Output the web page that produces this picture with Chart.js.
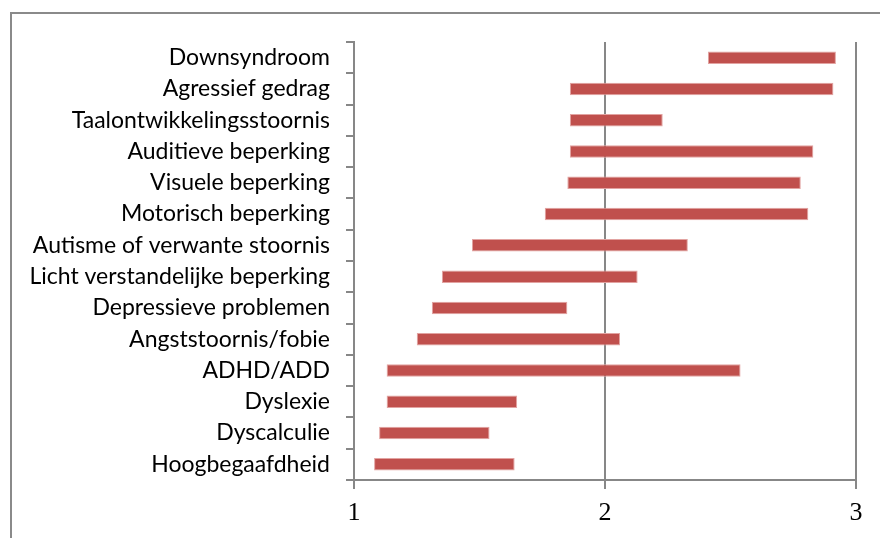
<!DOCTYPE html>
<html>
<head>
<meta charset="utf-8">
<script src="https://cdn.jsdelivr.net/npm/chart.js@4"></script>
<style>
  html,body{margin:0;padding:0;background:#fff;}
  #wrap{position:relative;width:880px;height:538px;overflow:hidden;}
  #frame{position:absolute;left:10px;top:12px;width:900px;height:600px;border:2px solid #8a8a8a;box-sizing:border-box;}
  canvas{position:absolute;left:0;top:0;}
</style>
</head>
<body>
<div id="wrap">
  <div id="frame"></div>
  <canvas id="myChart" width="880" height="538"></canvas>
</div>
<script>
// categories, top to bottom
var categories = ["Downsyndroom","Agressief gedrag","Taalontwikkelingsstoornis","Auditieve beperking",
  "Visuele beperking","Motorisch beperking","Autisme of verwante stoornis","Licht verstandelijke beperking",
  "Depressieve problemen","Angststoornis/fobie","ADHD/ADD","Dyslexie","Dyscalculie","Hoogbegaafdheid"];
// start and end of each bar
var lowValues  = [2.41,1.86,1.86,1.86,1.85,1.76,1.47,1.35,1.31,1.25,1.13,1.13,1.10,1.08];
var highValues = [2.92,2.91,2.23,2.83,2.78,2.81,2.33,2.13,1.85,2.06,2.54,1.65,1.54,1.64];
var xTicks = [1,2,3];

var GRAY = '#878787';
var tmp = [];
for(var i=0;i<categories.length;i++){
  tmp.push([lowValues[i], highValues[i]]);
}

var data = {
  labels: categories,
  datasets: [{
    data: tmp,
    backgroundColor: '#C0504D',
    borderColor: '#e2a3a1',
    borderWidth: 1,
    borderSkipped: false,
    categoryPercentage: 1,
    barPercentage: 0.4
  }]
};

var config = {
  type: 'bar',
  data: data,
  options: {
    indexAxis: 'y',
    responsive: false,
    animation: false,
    layout: {padding: {left: 0, top: 42, right: 24, bottom: 0}},
    plugins: {legend: {display: false}, tooltip: {enabled: false}},
    scales: {
      x: {
        min: 1, max: 3,
        afterFit: function(s){ s.height = 58; },
        afterBuildTicks: function(s){ s.ticks = xTicks.map(function(v){ return {value: v}; }); },
        border: {color: GRAY, width: 2},
        grid: {color: GRAY, lineWidth: 2, tickLength: 9, drawOnChartArea: true},
        ticks: {
          padding: 9,
          color: '#000',
          font: {family: '"Liberation Serif", "DejaVu Serif", serif', size: 26}
        }
      },
      y: {
        afterFit: function(s){ s.width = 354; },
        border: {color: GRAY, width: 2},
        grid: {offset: true, color: GRAY, lineWidth: 2, tickLength: 8, drawOnChartArea: false},
        ticks: {
          padding: 16,
          color: '#000',
          font: {family: 'Lato, "Noto Sans", sans-serif', size: 23}
        }
      }
    }
  }
};

var myChart = new Chart(document.getElementById('myChart'), config);
</script>
</body>
</html>
